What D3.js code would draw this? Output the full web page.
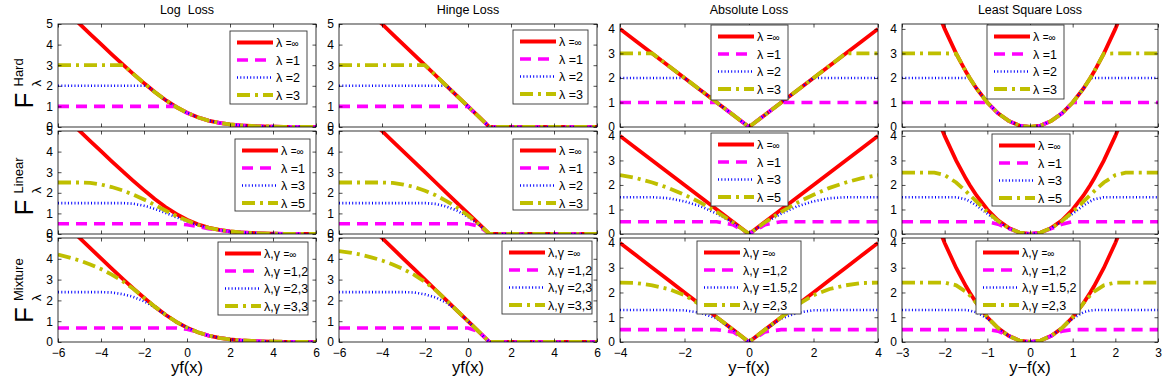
<!DOCTYPE html>
<html><head><meta charset="utf-8">
<script src="https://cdn.jsdelivr.net/npm/d3@7"></script>
<style>body{margin:0;background:#fff}svg{display:block}text{font-family:"Liberation Sans",Arial,Helvetica,sans-serif}</style>
</head><body><svg id="c" width="1170" height="382"></svg>
<script>
// ---------- data ----------
const colTitles = ["Log  Loss", "Hinge Loss", "Absolute Loss", "Least Square Loss"];
const xLabels = ["yf(x)", "yf(x)", "y\u2212f(x)", "y\u2212f(x)"];
const rowNames = ["Hard", "Linear", "Mixture"];
const xDomains = [[-6, 6], [-6, 6], [-4, 4], [-3, 3]];
const yDomains = [[0, 5], [0, 5], [0, 4.2], [0, 4.2]];
const xTickVals = [[-6, -4, -2, 0, 2, 4, 6], [-6, -4, -2, 0, 2, 4, 6], [-4, -2, 0, 2, 4], [-3, -2, -1, 0, 1, 2, 3]];
const yTickVals = [[0, 1, 2, 3, 4, 5], [0, 1, 2, 3, 4, 5], [0, 1, 2, 3, 4], [0, 1, 2, 3, 4]];

// Log loss column
const xLog = [-6,-5.5,-5,-4.5,-4,-3.5,-3,-2.95,-2.5,-2,-1.85,-1.5,-1,-0.54,-0.5,0,0.5,1,1.5,2,2.5,3,3.5,4,4.5,5,5.5,6];
const lossLog = [6.00,5.50,5.01,4.51,4.02,3.53,3.05,3.00,2.58,2.13,2.00,1.70,1.31,1.00,0.97,0.69,0.47,0.31,0.20,0.13,0.08,0.05,0.03,0.02,0.01,0.01,0.00,0.00];
const hardLog1 = [1,1,1,1,1,1,1,1,1,1,1,1,1,1,0.97,0.69,0.47,0.31,0.20,0.13,0.08,0.05,0.03,0.02,0.01,0.01,0.00,0.00];
const hardLog2 = [2,2,2,2,2,2,2,2,2,2,2,1.70,1.31,1.00,0.97,0.69,0.47,0.31,0.20,0.13,0.08,0.05,0.03,0.02,0.01,0.01,0.00,0.00];
const hardLog3 = [3,3,3,3,3,3,3,3,2.58,2.13,2.00,1.70,1.31,1.00,0.97,0.69,0.47,0.31,0.20,0.13,0.08,0.05,0.03,0.02,0.01,0.01,0.00,0.00];
const linLog1 = [0.5,0.5,0.5,0.5,0.5,0.5,0.5,0.5,0.5,0.5,0.5,0.5,0.5,0.5,0.50,0.45,0.36,0.26,0.18,0.12,0.08,0.05,0.03,0.02,0.01,0.01,0.00,0.00];
const linLog3 = [1.5,1.5,1.5,1.5,1.5,1.5,1.5,1.5,1.47,1.37,1.33,1.22,1.03,0.83,0.82,0.61,0.44,0.30,0.19,0.12,0.08,0.05,0.03,0.02,0.01,0.01,0.00,0.00];
const linLog5 = [2.5,2.5,2.5,2.48,2.40,2.28,2.12,2.10,1.91,1.67,1.60,1.41,1.14,0.90,0.88,0.65,0.45,0.30,0.20,0.13,0.08,0.05,0.03,0.02,0.01,0.01,0.00,0.00];
const mixLog12 = [0.67,0.67,0.67,0.67,0.67,0.67,0.67,0.67,0.67,0.67,0.67,0.67,0.67,0.67,0.67,0.61,0.47,0.31,0.20,0.13,0.08,0.05,0.03,0.02,0.01,0.01,0.00,0.00];
const mixLog23 = [2.4,2.4,2.4,2.4,2.4,2.38,2.30,2.29,2.17,1.96,1.88,1.67,1.31,1.00,0.97,0.69,0.47,0.31,0.20,0.13,0.08,0.05,0.03,0.02,0.01,0.01,0.00,0.00];
const mixLog33 = [4.20,4.07,3.92,3.73,3.51,3.24,2.93,2.89,2.56,2.13,2.00,1.70,1.31,1.00,0.97,0.69,0.47,0.31,0.20,0.13,0.08,0.05,0.03,0.02,0.01,0.01,0.00,0.00];

// Hinge loss column
const xHinge = [-6,-5.5,-5,-4.5,-4,-3.5,-3,-2.5,-2,-1.5,-1,-0.5,0,0.5,1,1.5,2,2.5,3,3.5,4,4.5,5,5.5,6];
const lossHinge = [7,6.5,6,5.5,5,4.5,4,3.5,3,2.5,2,1.5,1,0.5,0,0,0,0,0,0,0,0,0,0,0];
const hardHinge1 = [1,1,1,1,1,1,1,1,1,1,1,1,1,0.5,0,0,0,0,0,0,0,0,0,0,0];
const hardHinge2 = [2,2,2,2,2,2,2,2,2,2,2,1.5,1,0.5,0,0,0,0,0,0,0,0,0,0,0];
const hardHinge3 = [3,3,3,3,3,3,3,3,3,2.5,2,1.5,1,0.5,0,0,0,0,0,0,0,0,0,0,0];
const linHinge1 = [0.5,0.5,0.5,0.5,0.5,0.5,0.5,0.5,0.5,0.5,0.5,0.5,0.5,0.38,0,0,0,0,0,0,0,0,0,0,0];
const linHinge3 = [1.5,1.5,1.5,1.5,1.5,1.5,1.5,1.5,1.5,1.46,1.33,1.13,0.83,0.46,0,0,0,0,0,0,0,0,0,0,0];
const linHinge5 = [2.5,2.5,2.5,2.5,2.5,2.48,2.40,2.28,2.10,1.88,1.60,1.28,0.90,0.48,0,0,0,0,0,0,0,0,0,0,0];
const mixHinge12 = [0.67,0.67,0.67,0.67,0.67,0.67,0.67,0.67,0.67,0.67,0.67,0.67,0.67,0.50,0,0,0,0,0,0,0,0,0,0,0];
const mixHinge23 = [2.4,2.4,2.4,2.4,2.4,2.4,2.4,2.38,2.29,2.14,1.89,1.50,1,0.5,0,0,0,0,0,0,0,0,0,0,0];
const mixHinge33 = [4.37,4.30,4.20,4.07,3.92,3.73,3.50,3.23,2.89,2.49,2,1.5,1,0.5,0,0,0,0,0,0,0,0,0,0,0];

// Absolute loss column
const xAbs = [-4,-3.5,-3,-2.5,-2,-1.5,-1,-0.5,0,0.5,1,1.5,2,2.5,3,3.5,4];
const lossAbs = [4,3.5,3,2.5,2,1.5,1,0.5,0,0.5,1,1.5,2,2.5,3,3.5,4];
const hardAbs1 = [1,1,1,1,1,1,1,0.5,0,0.5,1,1,1,1,1,1,1];
const hardAbs2 = [2,2,2,2,2,1.5,1,0.5,0,0.5,1,1.5,2,2,2,2,2];
const hardAbs3 = [3,3,3,2.5,2,1.5,1,0.5,0,0.5,1,1.5,2,2.5,3,3,3];
const linAbs1 = [0.5,0.5,0.5,0.5,0.5,0.5,0.5,0.38,0,0.38,0.5,0.5,0.5,0.5,0.5,0.5,0.5];
const linAbs3 = [1.5,1.5,1.5,1.46,1.33,1.13,0.83,0.46,0,0.46,0.83,1.13,1.33,1.46,1.5,1.5,1.5];
const linAbs5 = [2.4,2.28,2.1,1.88,1.6,1.28,0.9,0.48,0,0.48,0.9,1.28,1.6,1.88,2.1,2.28,2.4];
const mixAbs12 = [0.5,0.5,0.5,0.5,0.5,0.5,0.5,0.41,0,0.41,0.5,0.5,0.5,0.5,0.5,0.5,0.5];
const mixAbs152 = [1.29,1.29,1.29,1.29,1.28,1.18,0.95,0.5,0,0.5,0.95,1.18,1.28,1.29,1.29,1.29,1.29];
const mixAbs23 = [2.4,2.38,2.29,2.14,1.89,1.5,1,0.5,0,0.5,1,1.5,1.89,2.14,2.29,2.38,2.4];

// Least square loss column
const xSq = [-3,-2.75,-2.5,-2.24,-2,-1.73,-1.5,-1.41,-1.25,-1,-0.75,-0.5,-0.25,0,0.25,0.5,0.75,1,1.25,1.41,1.5,1.73,2,2.24,2.5,2.75,3];
const lossSq = [9,7.56,6.25,5.02,4,2.99,2.25,1.99,1.56,1,0.56,0.25,0.06,0,0.06,0.25,0.56,1,1.56,1.99,2.25,2.99,4,5.02,6.25,7.56,9];
const hardSq1 = [1,1,1,1,1,1,1,1,1,1,0.56,0.25,0.06,0,0.06,0.25,0.56,1,1,1,1,1,1,1,1,1,1];
const hardSq2 = [2,2,2,2,2,2,2,2,1.56,1,0.56,0.25,0.06,0,0.06,0.25,0.56,1,1.56,2,2,2,2,2,2,2,2];
const hardSq3 = [3,3,3,3,3,2.99,2.25,1.99,1.56,1,0.56,0.25,0.06,0,0.06,0.25,0.56,1,1.56,1.99,2.25,2.99,3,3,3,3,3];
const linSq1 = [0.5,0.5,0.5,0.5,0.5,0.5,0.5,0.5,0.5,0.5,0.40,0.22,0.06,0,0.06,0.22,0.40,0.5,0.5,0.5,0.5,0.5,0.5,0.5,0.5,0.5,0.5];
const linSq3 = [1.5,1.5,1.5,1.5,1.5,1.5,1.41,1.33,1.16,0.83,0.51,0.24,0.06,0,0.06,0.24,0.51,0.83,1.16,1.33,1.41,1.5,1.5,1.5,1.5,1.5,1.5];
const linSq5 = [2.5,2.5,2.5,2.5,2.4,2.10,1.74,1.59,1.32,0.9,0.53,0.24,0.06,0,0.06,0.24,0.53,0.9,1.32,1.59,1.74,2.10,2.4,2.5,2.5,2.5,2.5];
const mixSq12 = [0.5,0.5,0.5,0.5,0.5,0.5,0.5,0.5,0.5,0.5,0.44,0.25,0.06,0,0.06,0.25,0.44,0.5,0.5,0.5,0.5,0.5,0.5,0.5,0.5,0.5,0.5];
const mixSq152 = [1.29,1.29,1.29,1.29,1.29,1.29,1.29,1.27,1.20,0.95,0.56,0.25,0.06,0,0.06,0.25,0.56,0.95,1.20,1.27,1.29,1.29,1.29,1.29,1.29,1.29,1.29];
const mixSq23 = [2.4,2.4,2.4,2.4,2.4,2.29,2.03,1.88,1.56,1,0.56,0.25,0.06,0,0.06,0.25,0.56,1,1.56,1.88,2.03,2.29,2.4,2.4,2.4,2.4,2.4];

// legend labels
const legHard = ["\u03bb =\u221e", "\u03bb =1", "\u03bb =2", "\u03bb =3"];
const legLin135 = ["\u03bb =\u221e", "\u03bb =1", "\u03bb =3", "\u03bb =5"];
const legLin123 = ["\u03bb =\u221e", "\u03bb =1", "\u03bb =2", "\u03bb =3"];
const legMixA = ["\u03bb,\u03b3 =\u221e", "\u03bb,\u03b3 =1,2", "\u03bb,\u03b3 =2,3", "\u03bb,\u03b3 =3,3"];
const legMixB = ["\u03bb,\u03b3 =\u221e", "\u03bb,\u03b3 =1,2", "\u03bb,\u03b3 =1.5,2", "\u03bb,\u03b3 =2,3"];

const colX = [xLog, xHinge, xAbs, xSq];
const panelSeries = [
  [[lossLog, hardLog1, hardLog2, hardLog3], [lossHinge, hardHinge1, hardHinge2, hardHinge3], [lossAbs, hardAbs1, hardAbs2, hardAbs3], [lossSq, hardSq1, hardSq2, hardSq3]],
  [[lossLog, linLog1, linLog3, linLog5], [lossHinge, linHinge1, linHinge3, linHinge5], [lossAbs, linAbs1, linAbs3, linAbs5], [lossSq, linSq1, linSq3, linSq5]],
  [[lossLog, mixLog12, mixLog23, mixLog33], [lossHinge, mixHinge12, mixHinge23, mixHinge33], [lossAbs, mixAbs12, mixAbs152, mixAbs23], [lossSq, mixSq12, mixSq152, mixSq23]]
];
const panelLegends = [
  [legHard, legHard, legHard, legHard],
  [legLin135, legLin123, legLin135, legLin135],
  [legMixA, legMixA, legMixB, legMixB]
];

// ---------- layout / style ----------
const rowsBox = [[24, 127], [131, 234], [238, 342]];
const colsBox = [[58, 316], [339, 597], [620, 878], [902, 1158]];
const legendBoxes = [
  [[230, 31, 77, 73], [513, 30, 75, 74], [711, 25, 77, 75], [987, 25, 77, 74]],
  [[235, 139, 75, 72], [513, 139, 75, 71], [711, 133, 77, 73], [992, 134, 78, 72]],
  [[218, 242, 90, 73], [502, 241, 90, 73], [697, 241, 104, 73], [976, 241, 104, 73]]
];
const styles = [
  {color: "#ff0000", width: 3.8, dash: null},
  {color: "#ff00ff", width: 3.6, dash: "11,7"},
  {color: "#0000ff", width: 2.6, dash: "1,2.3"},
  {color: "#bfbf00", width: 3.8, dash: "13,5,3,5"}
];

const svg = d3.select("#c");
const defs = svg.append("defs");

panelSeries.forEach((row, r) => row.forEach((series, c) => {
  const [x0, x1] = colsBox[c], [y0, y1] = rowsBox[r];
  const x = d3.scaleLinear().domain(xDomains[c]).range([x0, x1]);
  const y = d3.scaleLinear().domain(yDomains[c]).range([y1, y0]);
  const xs = colX[c];
  const id = "clip" + r + c;
  defs.append("clipPath").attr("id", id).append("rect")
    .attr("x", x0).attr("y", y0).attr("width", x1 - x0).attr("height", y1 - y0);
  const g = svg.append("g").attr("clip-path", "url(#" + id + ")");
  const line = d3.line().x((d, i) => x(xs[i])).y(d => y(d)).curve(d3.curveLinear);
  series.forEach((s, k) => {
    g.append("path").attr("d", line(s)).attr("fill", "none")
      .attr("stroke", styles[k].color).attr("stroke-width", styles[k].width)
      .attr("stroke-dasharray", styles[k].dash);
  });
  // frame
  svg.append("rect").attr("x", x0).attr("y", y0).attr("width", x1 - x0).attr("height", y1 - y0)
    .attr("fill", "none").attr("stroke", "#000").attr("stroke-width", 0.8);
  const styleAxis = (ax) => {
    ax.select(".domain").remove();
    ax.selectAll(".tick line").attr("stroke", "#000").attr("stroke-width", 0.7);
    ax.selectAll("text").attr("font-size", "12px").attr("fill", "#000")
      .attr("font-family", "'Liberation Sans', Arial, sans-serif");
  };
  svg.append("g").attr("transform", `translate(${x0},0)`)
    .call(d3.axisLeft(y).tickValues(yTickVals[c]).tickSize(-3.5).tickPadding(5).tickFormat(d3.format("d")))
    .call(styleAxis);
  svg.append("g").attr("transform", `translate(${x1},0)`)
    .call(d3.axisRight(y).tickValues(yTickVals[c]).tickSize(-3.5).tickFormat(""))
    .call(styleAxis);
  svg.append("g").attr("transform", `translate(0,${y0})`)
    .call(d3.axisTop(x).tickValues(xTickVals[c]).tickSize(-3.5).tickFormat(""))
    .call(styleAxis);
  const bx = svg.append("g").attr("transform", `translate(0,${y1})`)
    .call(d3.axisBottom(x).tickValues(xTickVals[c]).tickSize(-3.5).tickPadding(5)
      .tickFormat(r === 2 ? d3.format("d") : ""))
    .call(styleAxis);
  bx.selectAll("text").attr("dy", "0.85em");

  // legend
  const [lx, ly, lw, lh] = legendBoxes[r][c];
  const lg = svg.append("g");
  lg.append("rect").attr("x", lx).attr("y", ly).attr("width", lw).attr("height", lh)
    .attr("fill", "#fff").attr("stroke", "#333").attr("stroke-width", 0.9);
  panelLegends[r][c].forEach((lab, k) => {
    const yy = ly + 11.5 + k * 17.5;
    lg.append("line").attr("x1", lx + 7).attr("x2", lx + 43).attr("y1", yy).attr("y2", yy)
      .attr("stroke", styles[k].color).attr("stroke-width", styles[k].width)
      .attr("stroke-dasharray", styles[k].dash);
    const t = lg.append("text").attr("x", lx + 46).attr("y", yy).attr("dy", "0.36em")
      .attr("font-size", "12.5px").attr("fill", "#000");
    const p = lab.indexOf("=");
    t.append("tspan").text(lab.slice(0, p));
    t.append("tspan").text(lab.slice(p)).attr("font-size", lab.endsWith("\u221e") ? "10px" : "12.5px");
  });
}));

// column titles and x labels
colTitles.forEach((t, c) => {
  const cx = (colsBox[c][0] + colsBox[c][1]) / 2;
  svg.append("text").attr("x", cx).attr("y", 14).attr("text-anchor", "middle")
    .attr("font-size", "12.5px").style("white-space", "pre").text(t);
  svg.append("text").attr("x", cx).attr("y", 373).attr("text-anchor", "middle")
    .attr("font-size", "16.5px").text(xLabels[c]);
});

// row y labels: F with superscript name and subscript lambda
rowNames.forEach((nm, r) => {
  const cy = (rowsBox[r][0] + rowsBox[r][1]) / 2;
  const g = svg.append("g").attr("transform", `translate(33,${cy + 33}) rotate(-90)`);
  g.append("text").attr("x", 0).attr("y", 0).attr("font-size", "26px").text("F");
  g.append("text").attr("x", 22).attr("y", -10).attr("font-size", "13px").text(nm);
  g.append("text").attr("x", 22).attr("y", 8).attr("font-size", "13px").text("\u03bb");
});
</script></body></html>
